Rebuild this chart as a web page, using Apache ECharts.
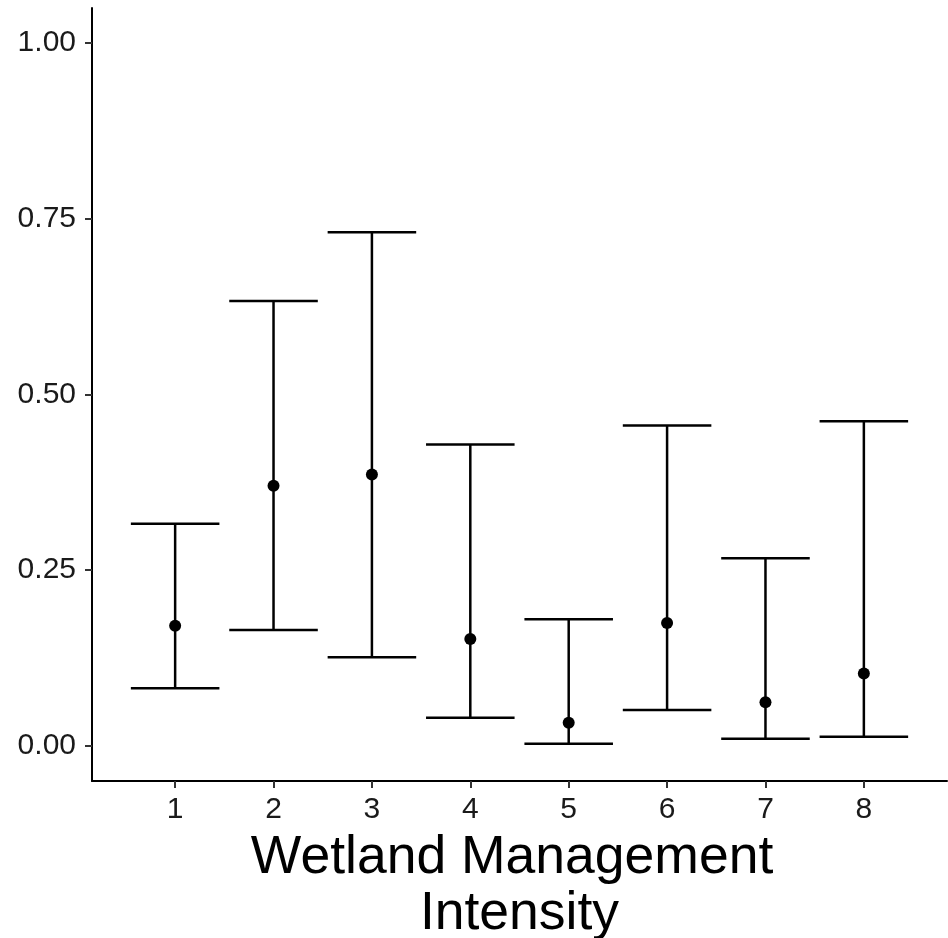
<!DOCTYPE html>
<html>
<head>
<meta charset="utf-8">
<script src="https://cdn.jsdelivr.net/npm/echarts@6/dist/echarts.min.js"></script>
<style>html,body{margin:0;padding:0;background:#fff}#c{width:948px;height:938px}</style>
</head>
<body>
<div id="c"></div>
<script>
const categories = [1, 2, 3, 4, 5, 6, 7, 8];
const meanValues = [0.171, 0.370, 0.386, 0.152, 0.033, 0.175, 0.062, 0.103];
const lowerValues = [0.082, 0.165, 0.126, 0.040, 0.003, 0.051, 0.010, 0.013];
const upperValues = [0.316, 0.633, 0.731, 0.429, 0.180, 0.456, 0.267, 0.462];
const yTicks = [0, 0.25, 0.5, 0.75, 1.0];

const chart = echarts.init(document.getElementById('c'));
const errData = categories.map((c, i) => [c, lowerValues[i], upperValues[i]]);
const ptData = categories.map((c, i) => [c, meanValues[i]]);
const font = 'Liberation Sans, Arial, sans-serif';

chart.setOption({
  animation: false,
  grid: { left: 92, right: 1, top: 8, bottom: 157, outerBoundsMode: 'none', containLabel: false },
  xAxis: {
    type: 'value', min: 0.155, max: 8.845,
    splitLine: { show: false },
    axisLine: { show: true, onZero: false, lineStyle: { color: '#000', width: 2 } },
    axisTick: { show: true, customValues: categories, length: 7, lineStyle: { color: '#333', width: 2 } },
    axisLabel: { customValues: categories, color: '#1a1a1a', fontSize: 30, fontFamily: font, margin: 14 },
    name: 'Wetland Management \nIntensity',
    nameLocation: 'middle', nameGap: 41,
    nameTextStyle: { fontSize: 53.5, color: '#000', fontFamily: font, lineHeight: 56 }
  },
  yAxis: {
    type: 'value', min: -0.05, max: 1.05,
    splitLine: { show: false },
    axisLine: { show: true, onZero: false, lineStyle: { color: '#000', width: 2 } },
    axisTick: { show: true, customValues: yTicks, length: 7, lineStyle: { color: '#333', width: 2 } },
    axisLabel: { customValues: yTicks, color: '#1a1a1a', fontSize: 30, fontFamily: font, margin: 16,
      formatter: v => v.toFixed(2) }
  },
  series: [
    {
      type: 'custom',
      data: errData,
      renderItem: function (params, api) {
        const x = api.value(0);
        const lo = api.coord([x, api.value(1)]);
        const hi = api.coord([x, api.value(2)]);
        const hw = api.size([0.9, 0])[0] / 2;
        const style = { stroke: '#000', lineWidth: 2.5 };
        return {
          type: 'group',
          children: [
            { type: 'line', shape: { x1: lo[0], y1: lo[1], x2: hi[0], y2: hi[1] }, style: style },
            { type: 'line', shape: { x1: lo[0] - hw, y1: lo[1], x2: lo[0] + hw, y2: lo[1] }, style: style },
            { type: 'line', shape: { x1: hi[0] - hw, y1: hi[1], x2: hi[0] + hw, y2: hi[1] }, style: style }
          ]
        };
      },
      z: 2
    },
    {
      type: 'scatter',
      data: ptData,
      symbol: 'circle',
      symbolSize: 12,
      itemStyle: { color: '#000', opacity: 1 },
      z: 3
    }
  ]
});
</script>
</body>
</html>
